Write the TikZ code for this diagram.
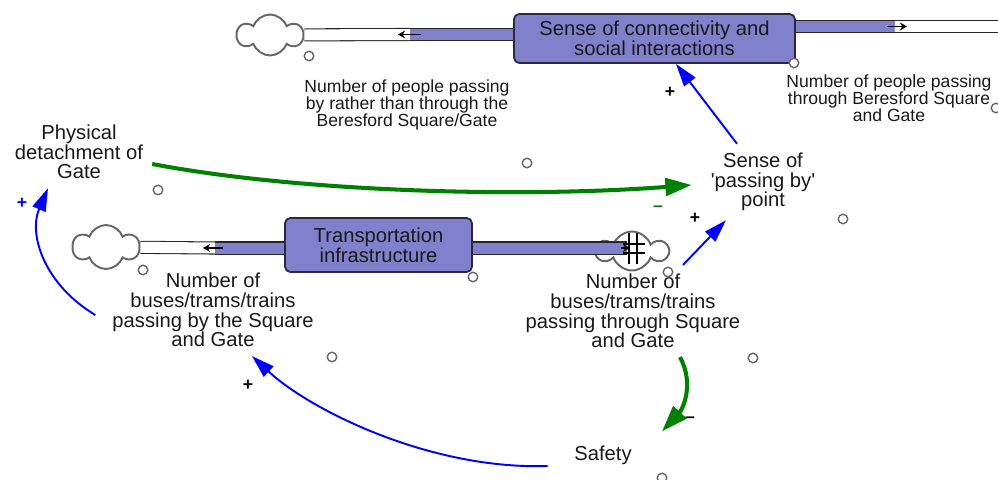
\documentclass[tikz,border=0pt]{standalone}
\usepackage{fontspec}
\setmainfont{Liberation Sans}
\usetikzlibrary{arrows.meta,shapes.symbols}
\definecolor{stockfill}{RGB}{128,128,204}
\definecolor{stockline}{RGB}{40,40,64}
\definecolor{linkblue}{RGB}{0,0,255}
\definecolor{linkgreen}{RGB}{0,128,0}
\tikzset{
 stock/.style={draw=stockline, fill=stockfill, line width=1pt, rounded corners=3pt, align=center, text=black!90, font=\fontsize{11.5}{11.2}\selectfont, inner sep=0pt},
 varname/.style={align=center, text=black!90, font=\fontsize{11.5}{11.2}\selectfont, inner sep=5pt},
 smallname/.style={align=center, text=black!90, font=\fontsize{10}{9.6}\selectfont, inner sep=3pt},
 source/.style={cloud, cloud puffs=6, cloud puff arc=140, cloud ignores aspect, draw=black!60, line width=1.1pt, fill=white, inner sep=0pt},
 pipe/.style={draw=black!85, line width=0.6pt, double=white, double distance=0.22cm},
 fullpipe/.style={pipe, double=stockfill},
 flowtip/.style={black, line width=0.8pt, -{Stealth[length=4pt,width=4.5pt]}},
 handle/.style={circle, draw=black!60, line width=0.8pt, fill=white, minimum size=0.19cm, inner sep=0pt},
 bluelink/.style={linkblue, line width=1.1pt, -{Triangle[length=13pt,width=8pt]}},
 greenlink/.style={linkgreen, line width=2.3pt, -{Triangle[length=15pt,width=10pt]}},
 polarity/.style={font=\bfseries\fontsize{10}{10}\selectfont, inner sep=0pt}
}
\begin{document}
\begin{tikzpicture}[x=0.02cm, y=-0.02cm]
 \useasboundingbox (0,0) rectangle (998,480);

 \node[source, minimum width=1.3cm, minimum height=0.82cm] (cloudA) at (270,35) {};
 \node[source, minimum width=1.32cm, minimum height=0.88cm] (cloudC) at (106,247) {};
 \node[source, minimum width=1.4cm, minimum height=0.78cm] (cloudD) at (632,251) {};

 \node[stock, minimum width=5.62cm, minimum height=0.98cm] (conn) at (654.5,38.5) {Sense of connectivity and\\social interactions};
 \node[stock, minimum width=3.74cm, minimum height=1.08cm] (transp) at (378.5,245) {Transportation\\infrastructure};

 \coordinate (flowA) at (410,34.5);
 \coordinate (flowB) at (895,26.5);
 \coordinate (edgeB) at (1000,26.5);
 \coordinate (flowC) at (215,248);
 \coordinate (flowD) at (627,248);

 \draw[pipe] (cloudA) -- (flowA);
 \draw[fullpipe] (flowA) -- (flowA -| conn.west);
 \draw[fullpipe] (flowB -| conn.east) -- (flowB);
 \draw[pipe] (flowB) -- (edgeB);
 \draw[pipe] (cloudC) -- (flowC);
 \draw[fullpipe] (flowC) -- (flowC -| transp.west);
 \draw[fullpipe] (flowD -| transp.east) -- (flowD);

 \draw[flowtip] ([xshift=0.22cm]flowA) -- ([xshift=-0.24cm]flowA);
 \draw[flowtip] ([xshift=-0.16cm]flowB) -- ([xshift=0.24cm]flowB);
 \draw[flowtip] ([xshift=0.16cm]flowC) -- ([xshift=-0.24cm]flowC);
 \draw[flowtip] ([xshift=-0.12cm]flowD) -- ([xshift=0.06cm]flowD);
 \draw[black, line width=0.8pt] (629,233) -- (629,264) (637,233) -- (637,264) (623,244) -- (645,244) (623,253) -- (645,253);

 \node[smallname] (peopleBy) at (407,105) {Number of people passing\\by rather than through the\\Beresford Square/Gate};
 \node[smallname] (peopleThru) at (889,98) {Number of people passing\\through Beresford Square\\and Gate};
 \node[varname] (detach) at (79,152) {Physical\\detachment of\\Gate};
 \node[varname] (senseP) at (763,182) {Sense of\\\textquotesingle passing by\textquotesingle\\point};
 \node[varname] (busBy) at (213,310) {Number of\\buses/trams/trains\\passing by the Square\\and Gate};
 \node[varname] (busThru) at (633,311) {Number of\\buses/trams/trains\\passing through Square\\and Gate};
 \node[varname] (safety) at (603,455) {Safety};

 \draw[greenlink] ([yshift=-0.24cm]detach.east) .. controls (300,192) and (520,198) .. ([xshift=-0.2cm,yshift=-0.06cm]senseP.west);
 \draw[bluelink] ([xshift=-0.52cm]senseP.north) -- ([xshift=0.43cm]conn.south);
 \draw[bluelink] ([xshift=1cm]busThru.north) -- ([xshift=-0.74cm]senseP.south);
 \draw[bluelink] ([xshift=-0.16cm,yshift=-0.1cm]busBy.west) .. controls (45,285) and (28,235) .. ([xshift=-0.62cm]detach.south);
 \draw[bluelink] ([xshift=-0.35cm,yshift=-0.22cm]safety.west) .. controls (430,470) and (310,410) .. ([xshift=0.78cm]busBy.south);
 \draw[greenlink] ([xshift=0.94cm]busThru.south) .. controls (695,385) and (682,410) .. ([xshift=1.18cm,yshift=0.1cm]safety.north);

 \node[polarity] (pol1) at (670,92) {+};
 \node[polarity, text=linkgreen] (pol2) at (658,209) {--};
 \node[polarity] (pol3) at (695,218) {+};
 \node[polarity, text=linkblue] (pol4) at (22,203) {+};
 \node[polarity] (pol5) at (690,420) {--};
 \node[polarity] (pol6) at (248,385) {+};

 \node[handle] (h1) at (309,56) {};
 \node[handle] (h2) at (794,63) {};
 \node[handle] (h3) at (996,108) {};
 \node[handle] (h4) at (158,190) {};
 \node[handle] (h5) at (527,163) {};
 \node[handle] (h6) at (843,219) {};
 \node[handle] (h7) at (143,270) {};
 \node[handle] (h8) at (473,277) {};
 \node[handle] (h9) at (668,272) {};
 \node[handle] (h10) at (332,357) {};
 \node[handle] (h11) at (753,358) {};
 \node[handle] (h12) at (662,478) {};
\end{tikzpicture}
\end{document}
